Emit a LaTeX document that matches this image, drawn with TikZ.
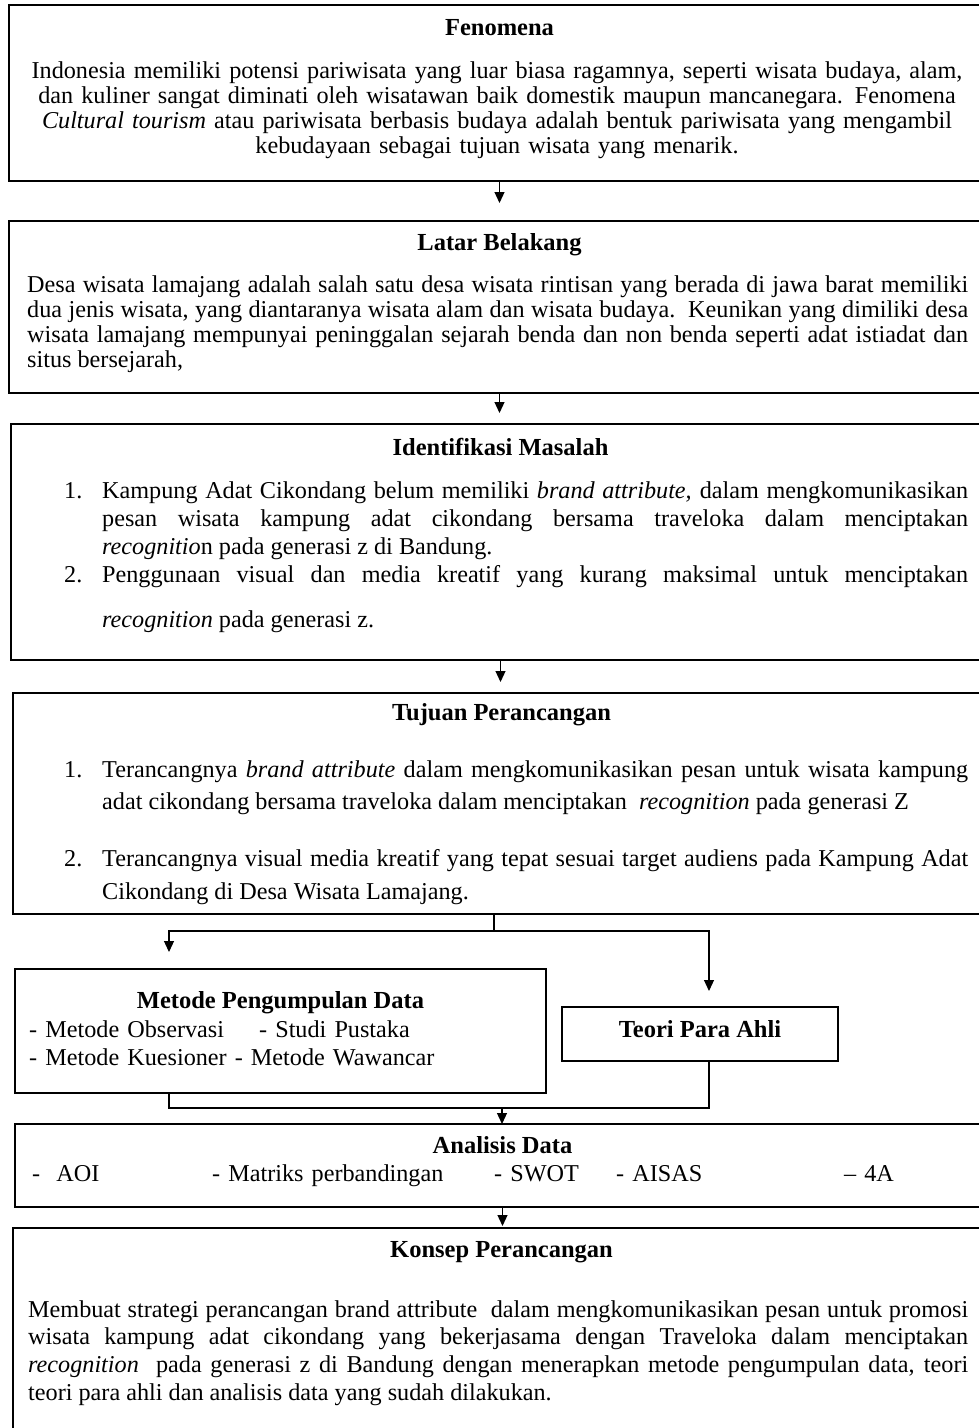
\documentclass[tikz,border=0pt]{standalone}
\usepackage{fontspec}
\setmainfont{Liberation Serif}
\usetikzlibrary{arrows.meta}
\newcommand{\itm}[1]{\hangindent=38pt\hangafter=1\noindent\hbox to 38pt{#1\hfil}\ignorespaces}
\newcommand{\cell}[2]{\hbox to #1{#2\hfil}}

\begin{document}
\begin{tikzpicture}[x=1pt,y=-1pt]
    \tikzset{
        box/.style={draw,line width=1.5pt,anchor=north west,inner sep=0pt,outer sep=0pt},
        title/.style={anchor=base,inner sep=0pt,font=\fontsize{24.5}{25}\selectfont\bfseries},
        body/.style={anchor=base west,inner sep=0pt,align=justify,font=\fontsize{24.2}{#1}\selectfont},
        body/.default=25,
        ln/.style={line width=1.2pt},
        arr/.style={line width=1.2pt,-{Triangle[width=10pt,length=11pt]}}
    }
    \useasboundingbox (0,0) rectangle (979,1428);

    % Fenomena
    \node[box,minimum width=981pt,minimum height=176pt] (fen) at (9,5) {};
    \node[title] (fenT) at (499.5,35) {Fenomena};
    \node[body=25.2,align=center,text width=960pt,anchor=base] (fenB) at (497,78) {Indonesia memiliki potensi pariwisata yang luar biasa ragamnya, seperti wisata budaya, alam,\\ dan kuliner sangat diminati oleh wisatawan baik domestik maupun mancanegara. Fenomena\\ \textit{Cultural tourism} atau pariwisata berbasis budaya adalah bentuk pariwisata yang mengambil\\ kebudayaan sebagai tujuan wisata yang menarik.};

    % Latar Belakang
    \node[box,minimum width=981pt,minimum height=172pt] (lat) at (9,221) {};
    \node[title] (latT) at (499.5,250) {Latar Belakang};
    \node[body,text width=941pt] (latB) at (27,292) {Desa wisata lamajang adalah salah satu desa wisata rintisan yang berada di jawa barat memiliki\linebreak dua jenis wisata, yang diantaranya wisata alam dan wisata budaya.\ \ Keunikan yang dimiliki desa\linebreak wisata lamajang mempunyai peninggalan sejarah benda dan non benda seperti adat istiadat dan\linebreak situs bersejarah,\par};

    % Identifikasi Masalah
    \node[box,minimum width=979pt,minimum height=236pt] (ide) at (11,424) {};
    \node[title] (ideT) at (500.5,455) {Identifikasi Masalah};
    \node[body=28.3,text width=904pt] (ideB) at (64,498) {\itm{1.}Kampung Adat Cikondang belum memiliki \textit{brand attribute,} dalam mengkomunikasikan\linebreak pesan wisata kampung adat cikondang bersama traveloka dalam menciptakan\linebreak \textit{recognitio}n pada generasi z di Bandung.\par
    \itm{2.}Penggunaan visual dan media kreatif yang kurang maksimal untuk menciptakan\vadjust{\vskip16.7pt}\linebreak \textit{recognition} pada generasi z.\par};

    % Tujuan Perancangan
    \node[box,minimum width=977pt,minimum height=221pt] (tuj) at (13,693) {};
    \node[title] (tujT) at (501.5,720) {Tujuan Perancangan};
    \node[body=32.5,text width=904pt] (tujB) at (64,777) {\itm{1.}Terancangnya \textit{brand attribute} dalam mengkomunikasikan pesan untuk wisata kampung\linebreak adat cikondang bersama traveloka dalam menciptakan\ \ \textit{recognition} pada generasi Z\par\vspace{24.5pt}
    \itm{2.}Terancangnya visual media kreatif yang tepat sesuai target audiens pada Kampung Adat\linebreak Cikondang di Desa Wisata Lamajang.\par};

    % Metode dan Teori
    \node[box,minimum width=531pt,minimum height=124pt] (met) at (15,969) {};
    \node[title] (metT) at (280.5,1008) {Metode Pengumpulan Data};
    \node[body=28,align=left,text width=500pt] (metB) at (29,1037) {\cell{230pt}{- Metode Observasi}- Studi Pustaka\\ - Metode Kuesioner - Metode Wawancar};
    \node[box,minimum width=276pt,minimum height=54pt] (teo) at (562,1007) {};
    \node[title] (teoT) at (700,1037) {Teori Para Ahli};

    % Analisis Data
    \node[box,minimum width=975pt,minimum height=83pt] (ana) at (15,1124) {};
    \node[title] (anaT) at (502.5,1153) {Analisis Data};
    \node[body,align=left,text width=940pt] (anaB) at (32,1181) {\cell{180pt}{-\ \ AOI}\cell{282pt}{- Matriks perbandingan}\cell{122pt}{- SWOT}\cell{228pt}{- AISAS}– 4A};

    % Konsep Perancangan
    \node[box,minimum width=977pt,minimum height=230pt] (kon) at (13,1228) {};
    \node[title] (konT) at (501.5,1257) {Konsep Perancangan};
    \node[body=27.7,text width=940pt] (konB) at (28,1317) {Membuat strategi perancangan brand attribute\ \ dalam mengkomunikasikan pesan untuk promosi\linebreak wisata kampung adat cikondang yang bekerjasama dengan Traveloka dalam menciptakan\linebreak \textit{recognition}\ \ pada generasi z di Bandung dengan menerapkan metode pengumpulan data, teori\linebreak teori para ahli dan analisis data yang sudah dilakukan.\par};

    % arrows
    \draw[arr,shorten >=18pt] (fen.south) -- (fen.south |- lat.north);
    \draw[arr,shorten >=11pt] (lat.south) -- (lat.south |- ide.north);
    \draw[arr,shorten >=11pt] (ide.south) -- (ide.south |- tuj.north);
    \coordinate (split) at (494,931);
    \draw[ln] (tuj.south -| split) -- (split);
    \draw[arr,shorten >=17pt] (split) -| ([xshift=154pt]met.north west);
    \draw[arr,shorten >=16pt] (split) -| ([xshift=147pt]teo.north west);
    \coordinate (join) at (502,1108);
    \draw[ln] ([xshift=154pt]met.south west) |- (join) -| ([xshift=147pt]teo.south west);
    \draw[arr] (join) -- (join |- ana.north);
    \draw[arr,shorten >=2pt] (ana.south) -- (ana.south |- kon.north);
\end{tikzpicture}
\end{document}
